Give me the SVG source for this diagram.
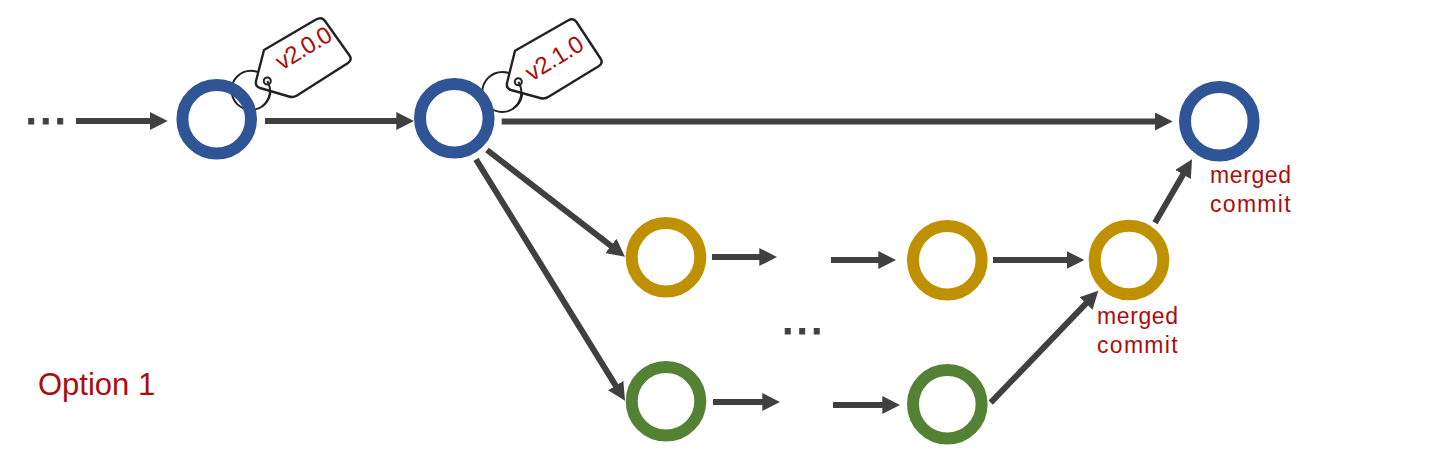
<svg xmlns="http://www.w3.org/2000/svg" width="1439" height="464" viewBox="0 0 1439 464">
<defs>
<style>
.c{fill:none;stroke-width:12}
.blue{stroke:#2f5597}.gold{stroke:#bf9000}.green{stroke:#548235}
.a{stroke:#404040;stroke-width:6;fill:none;marker-end:url(#h)}
.t{font-family:"Liberation Sans",Arial,sans-serif;fill:#ab0d0d}
.m{font-size:23px}
.v{font-size:24px}
.d{font-family:"Liberation Sans",Arial,sans-serif;font-size:52px;fill:#404040;stroke:#404040;stroke-width:1}
.r{fill:none;stroke:#222;stroke-width:2}
.g{fill:#fff;stroke:#222;stroke-width:2.4;stroke-linejoin:round}
</style>
<marker id="h" markerUnits="userSpaceOnUse" markerWidth="18" markerHeight="18" viewBox="0 -9 18 18" refX="7" refY="0" orient="auto"><path d="M0,-9L17.7,0L0,9z" fill="#404040"/></marker>
</defs>
<rect width="1439" height="464" fill="#fff"/>
<g id="connectors">
<line class="a" x1="76" y1="121" x2="157" y2="121"/>
<line class="a" x1="265" y1="121" x2="403.3" y2="121"/>
<line class="a" x1="501.7" y1="121.5" x2="1162" y2="121.5"/>
<line class="a" x1="487" y1="150" x2="616.5" y2="250.2"/>
<line class="a" x1="476" y1="159.3" x2="619.4" y2="391.6"/>
<line class="a" x1="712" y1="257" x2="766.3" y2="257"/>
<line class="a" x1="831" y1="260" x2="885.3" y2="260"/>
<line class="a" x1="993" y1="260" x2="1073.6" y2="260"/>
<line class="a" x1="713" y1="402" x2="769.3" y2="402"/>
<line class="a" x1="833" y1="405" x2="889.3" y2="405"/>
<line class="a" x1="990.7" y1="402.7" x2="1090.9" y2="298.4"/>
<line class="a" x1="1155" y1="222.7" x2="1186.6" y2="168.5"/>
</g>
<g id="tag-v200">
<circle class="r" cx="251" cy="90.3" r="19.5"/>
<path class="g" d="M264,50L316,19.5Q321.7,16.2 325,21L349.5,55.5Q352.5,60 348,63L297,95.5Q293.3,97.8 289,96.5L260,88Q255,86.5 256,81Z"/>
<circle class="r" cx="267.3" cy="81" r="3.5"/>
<path class="r" d="M267.3,81A19.5 19.5 0 0 1 262,106.5"/>
<text class="t v" letter-spacing="-0.9" transform="translate(281.7 70.7) rotate(-31)">v2.0.0</text>
</g>
<g id="tag-v210">
<circle class="r" cx="502.3" cy="92" r="20"/>
<path class="g" d="M515,50.7L568,20.5Q573.3,17.5 576.5,22L600.5,58.5Q603.5,63 599,66L549,96.5Q544.5,99.5 540,98L511,90Q506,88.5 507,83Z"/>
<circle class="r" cx="518.3" cy="81.7" r="3.5"/>
<path class="r" d="M518.3,81.7A20 20 0 0 1 513,108.5"/>
<text class="t v" letter-spacing="-0.4" transform="translate(531.7 81.7) rotate(-31.6)">v2.1.0</text>
</g>
<g id="node-blue-1"><circle class="c blue" cx="216.7" cy="119.3" r="34.3"/></g>
<g id="node-blue-2"><circle class="c blue" cx="454.3" cy="118.3" r="34.3"/></g>
<g id="node-blue-3"><circle class="c blue" cx="1219.3" cy="121.3" r="34.3"/></g>
<g id="node-gold-1"><circle class="c gold" cx="666" cy="257.3" r="34.3"/></g>
<g id="node-gold-2"><circle class="c gold" cx="947.3" cy="260.3" r="34.3"/></g>
<g id="node-gold-3"><circle class="c gold" cx="1129" cy="260" r="34.3"/></g>
<g id="node-green-1"><circle class="c green" cx="666" cy="401.3" r="34.3"/></g>
<g id="node-green-2"><circle class="c green" cx="947.3" cy="404.3" r="34.3"/></g>
<text class="d" x="24" y="123.5">...</text>
<text class="d" x="780.5" y="333.5">...</text>
<text class="t m" x="1210" y="182.7" letter-spacing="0.6">merged</text>
<text class="t m" x="1210" y="212" letter-spacing="1.3">commit</text>
<text class="t m" x="1097" y="324" letter-spacing="0.6">merged</text>
<text class="t m" x="1097" y="353.3" letter-spacing="1.3">commit</text>
<text class="t" x="38" y="395" font-size="31">Option 1</text>
</svg>
